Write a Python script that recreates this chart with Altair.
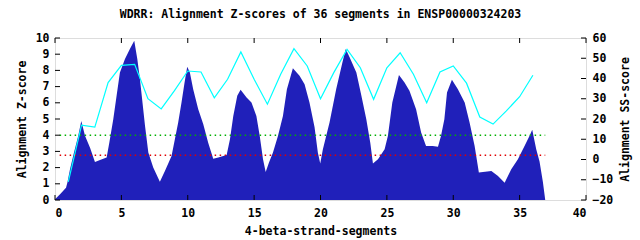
import altair as alt
import pandas as pd

# ---- data ----
seg_x = [0, 0.38, 0.83, 0.93, 1.13, 1.43, 1.75, 1.98, 2.26, 2.64, 3.01, 3.39, 3.89, 4.09, 4.39,
         4.64, 4.89, 5.27, 5.64, 5.97, 6.2, 6.4, 6.78, 7.03, 7.4, 7.9, 8.28, 8.78, 9.03, 9.28,
         9.53, 9.76, 9.96, 10.16, 10.41, 10.79, 11.17, 11.54, 11.92, 12.3, 12.93, 13.18, 13.43,
         13.73, 13.98, 14.43, 14.8, 15.17, 15.42, 15.67, 15.87, 16.12, 16.42, 16.8, 17.17, 17.47,
         17.92, 18.42, 18.8, 19.17, 19.55, 19.8, 19.98, 20.18, 20.68, 21.18, 21.65, 21.9, 22.2,
         22.7, 23.08, 23.45, 23.75, 23.95, 24.33, 24.83, 25.08, 25.41, 25.91, 26.33, 26.7, 27.2,
         27.58, 27.95, 28.45, 28.85, 29.08, 29.33, 29.53, 29.9, 30.35, 30.86, 31.23, 31.61, 31.93,
         32.24, 32.87, 33.37, 33.87, 34.37, 34.87, 35.37, 35.75, 35.95, 36.25, 36.5, 36.75, 36.93]
zscore = [0.04, 0.35, 0.76, 1.07, 1.9, 2.93, 3.96, 4.87, 3.96, 3.23, 2.35, 2.47, 2.62, 3.54, 4.99,
          6.43, 7.87, 8.7, 9.32, 9.83, 8.7, 7.46, 4.58, 2.93, 2.0, 1.13, 1.79, 2.72, 3.75, 4.78,
          6.02, 7.25, 8.22, 7.87, 6.84, 5.6, 4.68, 3.54, 2.55, 2.62, 2.78, 3.75, 5.19,
          6.43, 6.8, 6.33, 6.02, 5.19, 3.96, 2.52, 1.73, 2.31, 2.93, 3.96, 5.19, 6.84,
          8.14, 7.67, 7.15, 6.02, 4.5, 2.93, 2.25, 3.13, 4.78, 6.84, 8.49, 9.32, 8.8,
          7.87, 6.43, 4.99, 3.54, 2.25, 2.52, 3.13, 3.96, 6.02, 7.71, 7.25, 6.74, 5.6,
          4.16, 3.34, 3.34, 3.28, 3.96, 4.99, 6.64, 7.42, 6.84, 6.02, 4.78, 3.34, 1.69,
          1.73, 1.79, 1.48, 1.07, 1.9, 2.52, 3.34, 3.96, 4.33, 3.13, 2.37, 1.13, 0.0]

ss_pos = list(range(1, 37))
ss_score = [-11, 17, 16, 38, 46.5, 47, 30, 25, 34, 43.7, 43.2, 30.5, 39.6, 53.1, 39.6, 27.3,
            42.1, 54.7, 46.2, 30, 42.9, 54.4, 45.3, 29.7, 45.3, 52.7, 42.1, 28, 43.2, 46.2,
            37.7, 21, 17.5, 24, 31, 41.6]

thr_values = [4.0, 2.77]
thr_start = [0.35, 0.35]
thr_end = [36.93, 36.93]

x_ticks = [0, 5, 10, 15, 20, 25, 30, 35, 40]
y_ticks = list(range(0, 11))
y2_ticks = [-20, -10, 0, 10, 20, 30, 40, 50, 60]

title_text = "WDRR: Alignment Z-scores of 36 segments in ENSP00000324203"
x_title = "4-beta-strand-segments"
y_title = "Alignment Z-score"
y2_title = "Alignment SS-score"

# ---- styling ----
BLUE = "#2020BA"
CYAN = "#00FFFF"
THR_COLORS = ["#00B000", "#E00000"]
FONT = "DejaVu Sans Mono"
FS = 11.5
W, H = 531, 162
TICK = 5

df_area = pd.DataFrame({"x": seg_x, "z": zscore})
df_ss = pd.DataFrame({"x": ss_pos, "s": ss_score})
df_thr = pd.DataFrame({"v": thr_values, "x0": thr_start, "x1": thr_end, "c": THR_COLORS})
df_xt = pd.DataFrame({"t": x_ticks})
df_yt = pd.DataFrame({"t": y_ticks})
df_y2t = pd.DataFrame({"t": y2_ticks})

xs = alt.Scale(domain=[0, 40], nice=False, zero=False)
ys = alt.Scale(domain=[0, 10], nice=False)
y2s = alt.Scale(domain=[-20, 60], nice=False)

axis_common = dict(domain=False, ticks=False, grid=False, labelFont=FONT, labelFontWeight="bold",
                   labelFontSize=FS, labelColor="black", titleFont=FONT, titleFontWeight="bold",
                   titleFontSize=FS, titleColor="black")

x_axis = alt.Axis(values=x_ticks, title=x_title, orient="bottom", labelPadding=7, titlePadding=7,
                  **axis_common)
y_axis = alt.Axis(values=y_ticks, title=y_title, orient="left", labelPadding=6, titlePadding=8,
                  **axis_common)
y2_axis = alt.Axis(values=y2_ticks, title=y2_title, orient="right", labelPadding=6,
                   titlePadding=18, titleAngle=270, **axis_common)

X = lambda f: alt.X(f, scale=xs, axis=x_axis)
Y = lambda f: alt.Y(f, scale=ys, axis=y_axis)
Y2 = lambda f: alt.Y(f, scale=y2s, axis=y2_axis)

area = alt.Chart(df_area).mark_area(color=BLUE, interpolate="linear").encode(
    x=X("x:Q"), y=Y("z:Q"))

thr = alt.Chart(df_thr).mark_rule(strokeDash=[1.5, 3.5], strokeWidth=1.5).encode(
    x=X("x0:Q"), x2="x1:Q", y=Y("v:Q"),
    color=alt.Color("c:N", scale=None),
)

xt_bottom = alt.Chart(df_xt).mark_rule(color="black").encode(
    x=X("t:Q"), y=alt.value(H), y2=alt.value(H - TICK))
xt_top = alt.Chart(df_xt).mark_rule(color="black").encode(
    x=X("t:Q"), y=alt.value(0), y2=alt.value(TICK))
yt_left = alt.Chart(df_yt).mark_rule(color="black").encode(
    y=Y("t:Q"), x=alt.value(0), x2=alt.value(TICK))

left = alt.layer(area, thr, xt_bottom, xt_top, yt_left)

line = alt.Chart(df_ss).mark_line(color=CYAN, strokeWidth=1.2).encode(
    x=X("x:Q"), y=Y2("s:Q"))
yt_right = alt.Chart(df_y2t).mark_rule(color="black").encode(
    y=Y2("t:Q"), x=alt.value(W), x2=alt.value(W - TICK))

right = alt.layer(line, yt_right)

chart = alt.layer(left, right).resolve_scale(y="independent").resolve_axis(y="independent").properties(
    width=W, height=H,
    title=alt.TitleParams(title_text, font=FONT, fontWeight="bold", fontSize=FS, color="black",
                          anchor="middle", offset=12),
    autosize=alt.AutoSizeParams(type="none"),
    padding={"left": 55, "top": 38, "right": 54, "bottom": 40},
).configure_view(stroke="black", strokeWidth=1.2).configure(background="white")

chart.save("out.html", embed_options={"renderer": "svg", "actions": False})
